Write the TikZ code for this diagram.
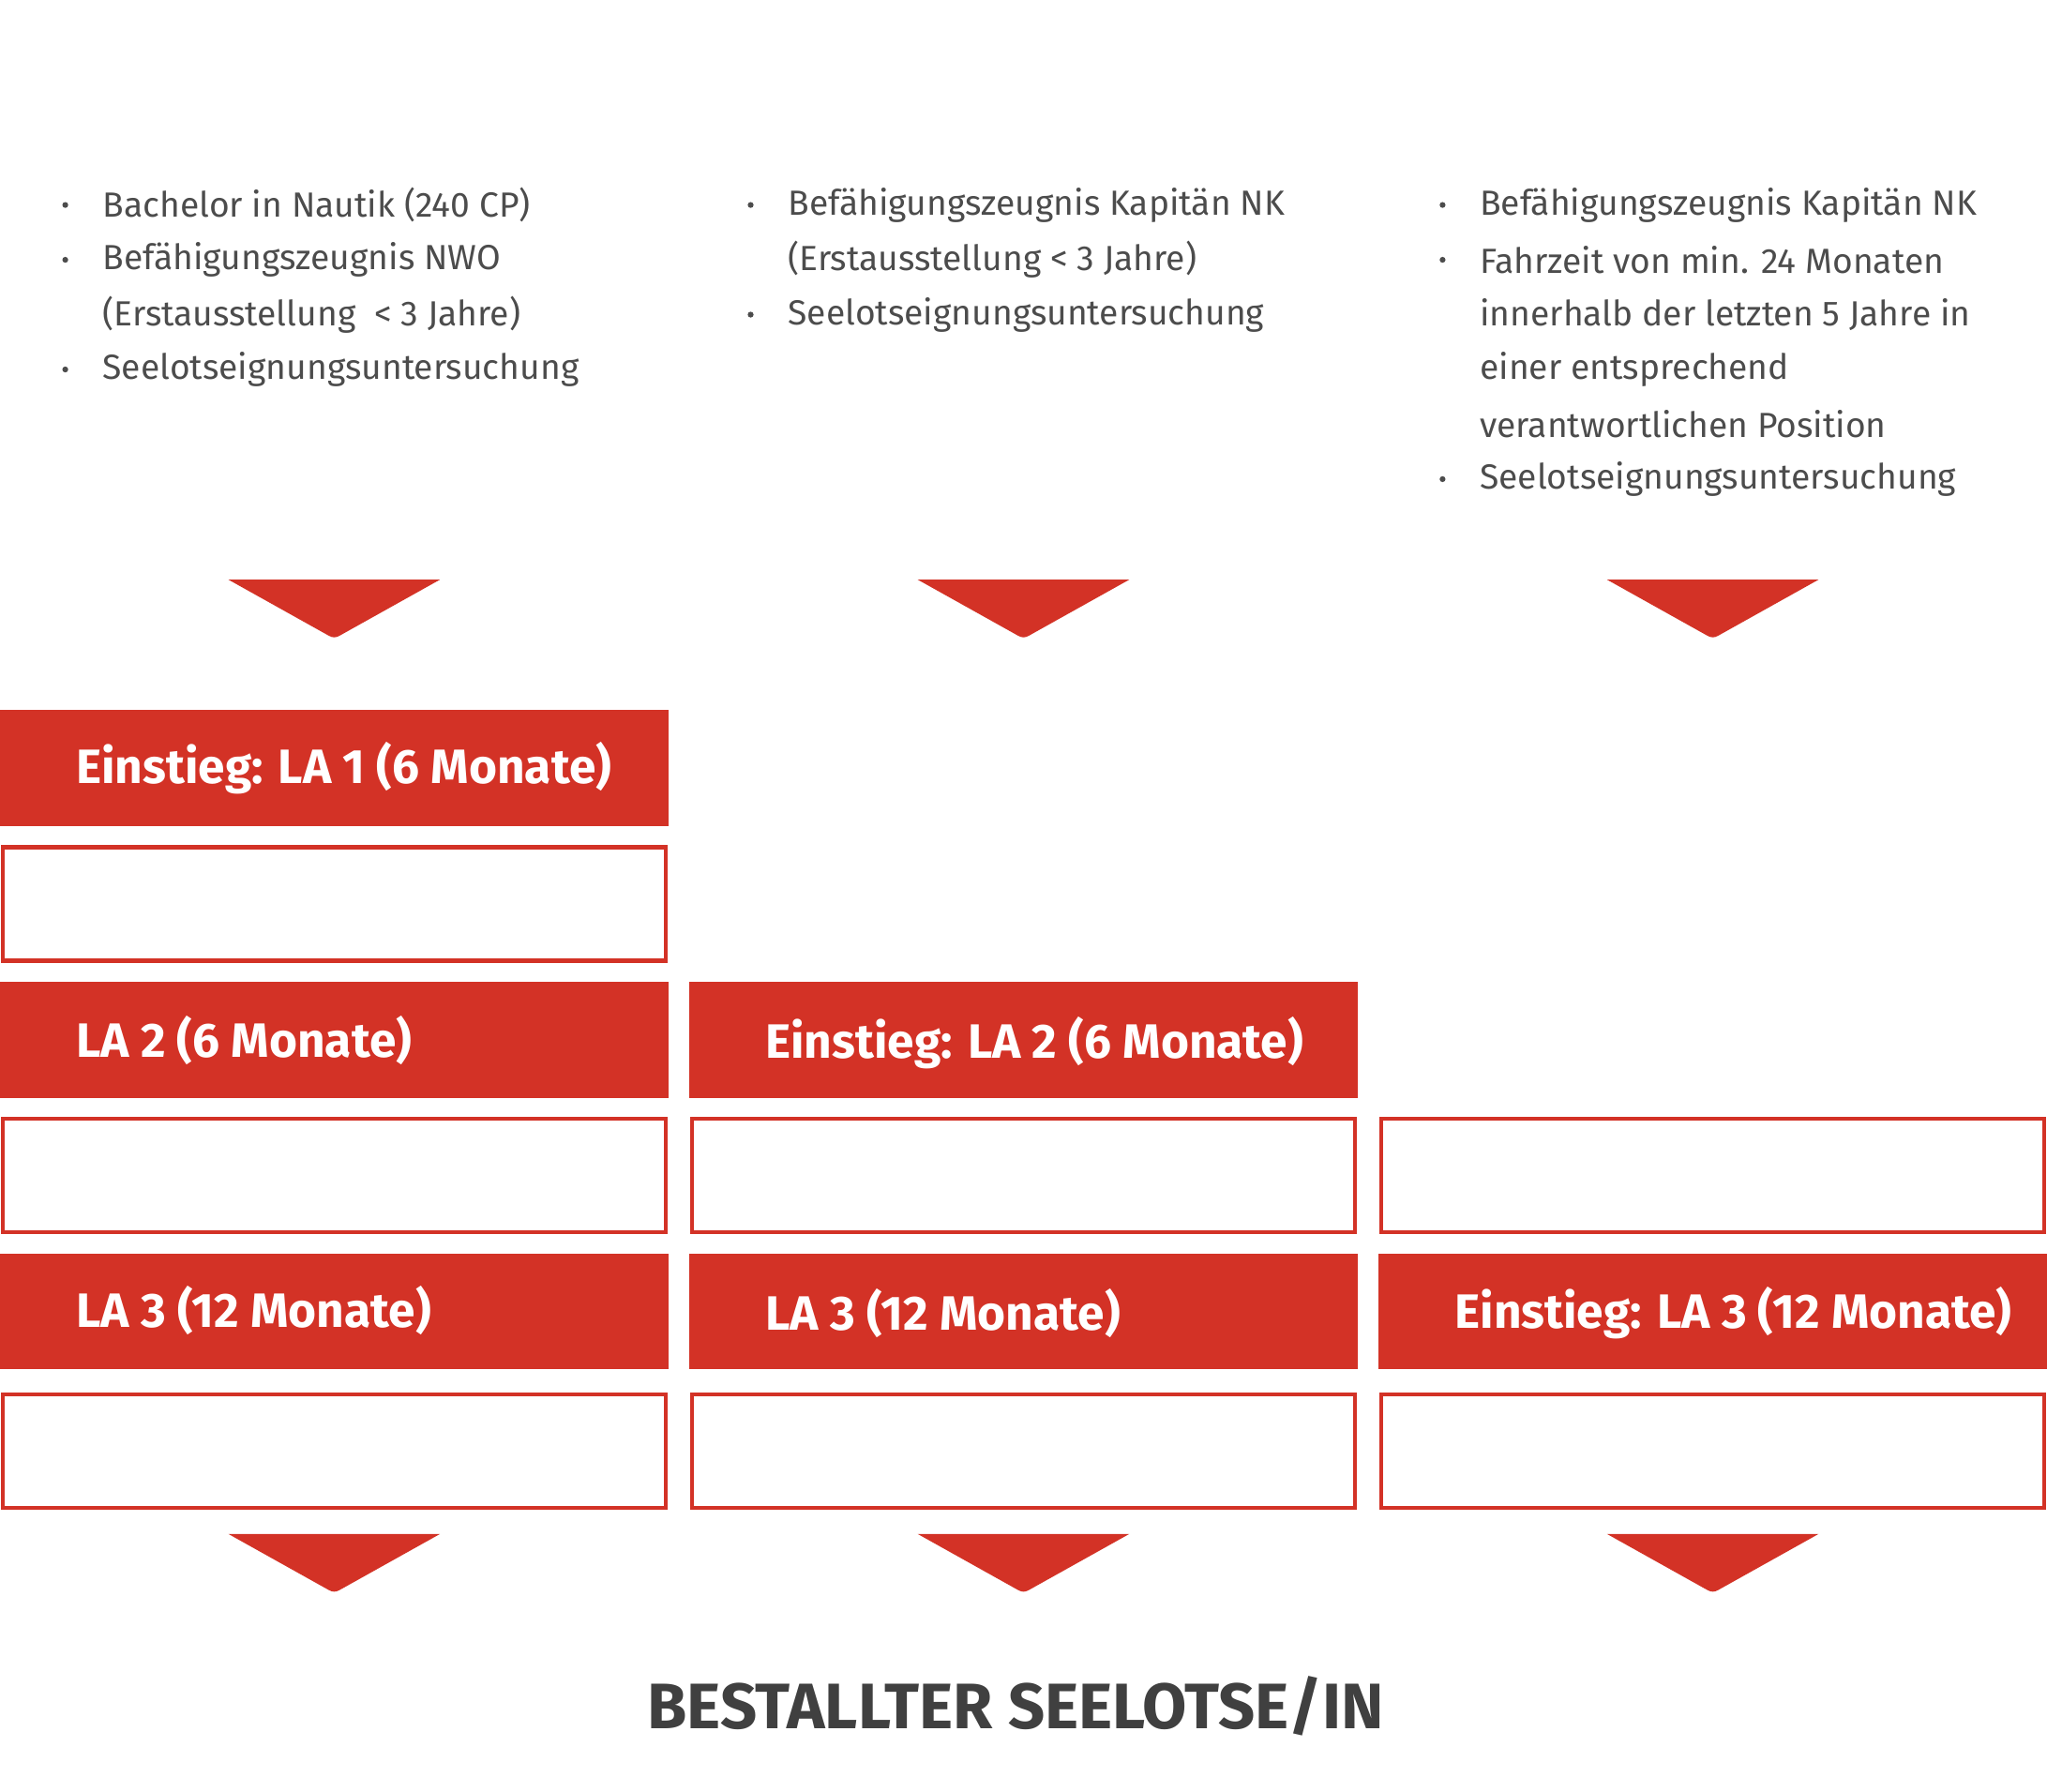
\documentclass[tikz,border=0pt]{standalone}
\usepackage{fontspec}
\setmainfont{Fira Sans}
\begin{document}
\begin{tikzpicture}[x=0.01cm,y=-0.01cm,
  red/.style={fill=red!70!black!85!orange, draw=none},
  hdr/.style={anchor=west,text=white,font=\fontsize{10.5}{12}\selectfont\bfseries},
  obox/.style={draw=red!70!black!85!orange,line width=0.9pt,fill=white},
  bl/.style={anchor=west,text=black!70,font=\fontsize{7.6}{9}\selectfont,inner sep=0pt},
  dot/.style={circle,fill=black!70,inner sep=0pt,minimum size=0.45mm},
  tri/.style={fill=red!70!black!85!orange,rounded corners=1pt}]
\definecolor{lred}{HTML}{D33226}
\tikzset{red/.style={fill=lred,draw=none},obox/.style={draw=lred,line width=0.9pt,fill=white},tri/.style={fill=lred}}
\useasboundingbox (0,0) rectangle (1568,1372);
% bullets col1
\foreach \y/\t [count=\i] in {157/Bachelor in Nautik (240 CP),199/Befähigungszeugnis NWO,283/Seelotseignungsuntersuchung}{
  \node[dot] (d1\i) at (50,\y) {}; \node[bl] (t1\i) at (78,\y) {\t};}
\node[bl] (t1x) at (78,241) {(Erstausstellung\ \ < 3 Jahre)};
% col2
\foreach \y/\t [count=\i] in {157/Befähigungszeugnis Kapitän NK,241/Seelotseignungsuntersuchung}{
  \node[dot] (d2\i) at (575,\y) {}; \node[bl] (t2\i) at (603,\y) {\t};}
\node[bl] (t2x) at (603,199) {(Erstausstellung < 3 Jahre)};
% col3
\foreach \y/\t [count=\i] in {157/Befähigungszeugnis Kapitän NK,199/Fahrzeit von min. 24 Monaten,367/Seelotseignungsuntersuchung}{
  \node[dot] (d3\i) at (1105,\y) {}; \node[bl] (t3\i) at (1133,\y) {\t};}
\foreach \y/\t [count=\i] in {241/innerhalb der letzten 5 Jahre in,283/einer entsprechend,325/verantwortlichen Position}{
  \node[bl] (t3x\i) at (1133,\y) {\t};}
% triangles
\foreach \c in {256,784,1312}{
  \fill[tri] (\c-81,444) -- (\c+81,444) -- (\c+4,487) to[out=-150,in=-30] (\c-4,487) -- cycle;
  \fill[tri] (\c-81,1175) -- (\c+81,1175) -- (\c+4,1218) to[out=-150,in=-30] (\c-4,1218) -- cycle;}
% red rows
\fill[red] (0,544) rectangle (512,633);
\node[hdr] (h1) at (46,588) {Einstieg: LA 1 (6 Monate)};
\fill[red] (0,752) rectangle (512,841);
\node[hdr] (h2) at (46,797) {LA 2 (6 Monate)};
\fill[red] (528,752) rectangle (1040,841);
\node[hdr] (h3) at (574,799) {Einstieg: LA 2 (6 Monate)};
\fill[red] (0,960) rectangle (512,1049);
\node[hdr] (h4) at (46,1004) {LA 3 (12 Monate)};
\fill[red] (528,960) rectangle (1040,1049);
\node[hdr] (h5) at (574,1006) {LA 3 (12 Monate)};
\fill[red] (1056,960) rectangle (1568,1049);
\node[hdr] (h6) at (1102,1006) {Einstieg: LA 3 (12 Monate)};
% outline boxes
\draw[obox] (2,649) rectangle (510,736);
\foreach \x in {2,530,1058}{
  \draw[obox] (\x,857) rectangle (\x+508,944);
  \draw[obox] (\x,1068) rectangle (\x+508,1155);}
\node[text=black!75,font=\fontsize{14}{16}\selectfont\bfseries] (fin) at (778,1307) {BESTALLTER SEELOTSE/IN};
\end{tikzpicture}
\end{document}
